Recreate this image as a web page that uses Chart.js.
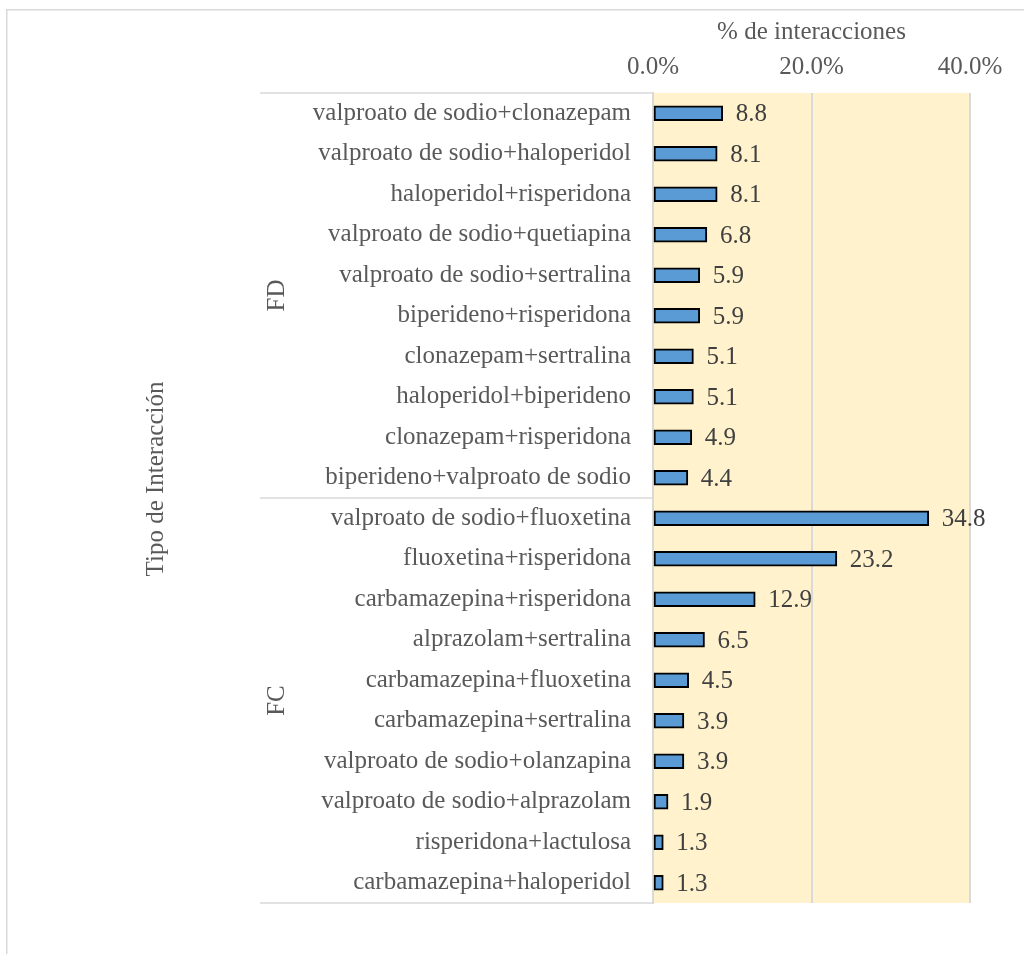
<!DOCTYPE html>
<html lang="es">
<head>
<meta charset="utf-8">
<title>Tipo de Interacción</title>
<script src="https://cdn.jsdelivr.net/npm/chart.js@4/dist/chart.umd.min.js"></script>
<style>
  html, body { margin: 0; padding: 0; background: #ffffff; }
  #wrap { width: 1024px; height: 954px; }
</style>
</head>
<body>
<div id="wrap"><canvas id="chart" width="1024" height="954"></canvas></div>
<script>
// Interacciones farmacodinámicas (FD) y farmacocinéticas (FC), % del total
const fdLabels = [
  'valproato de sodio+clonazepam',
  'valproato de sodio+haloperidol',
  'haloperidol+risperidona',
  'valproato de sodio+quetiapina',
  'valproato de sodio+sertralina',
  'biperideno+risperidona',
  'clonazepam+sertralina',
  'haloperidol+biperideno',
  'clonazepam+risperidona',
  'biperideno+valproato de sodio'
];
const fdValues = [8.8, 8.1, 8.1, 6.8, 5.9, 5.9, 5.1, 5.1, 4.9, 4.4];

const fcLabels = [
  'valproato de sodio+fluoxetina',
  'fluoxetina+risperidona',
  'carbamazepina+risperidona',
  'alprazolam+sertralina',
  'carbamazepina+fluoxetina',
  'carbamazepina+sertralina',
  'valproato de sodio+olanzapina',
  'valproato de sodio+alprazolam',
  'risperidona+lactulosa',
  'carbamazepina+haloperidol'
];
const fcValues = [34.8, 23.2, 12.9, 6.5, 4.5, 3.9, 3.9, 1.9, 1.3, 1.3];

const groupNames = ['FD', 'FC'];
const xTickValues = [0, 20, 40];
const xTitle = '% de interacciones';
const yTitle = 'Tipo de Interacción';

const categories = fdLabels.concat(fcLabels);
const values = fdValues.concat(fcValues);
const groupSizes = [fdLabels.length, fcLabels.length];

const FONT = '"Liberation Serif", "Times New Roman", serif';
const TEXT = '#595959';
const LINE = '#d9d9d9';

Chart.defaults.font.family = FONT;
Chart.defaults.font.size = 25;
Chart.defaults.color = TEXT;

// Outer frame, plot background, group dividers, group names and y title
const decorations = {
  id: 'decorations',
  beforeDraw(chart) {
    const { ctx, chartArea: a } = chart;
    ctx.save();
    ctx.fillStyle = '#ffffff';
    ctx.fillRect(0, 0, chart.width, chart.height);
    ctx.strokeStyle = LINE;
    ctx.lineWidth = 1.5;
    ctx.strokeRect(6.75, 9.75, chart.width + 20, chart.height + 20);
    ctx.fillStyle = '#FFF2CC';
    ctx.fillRect(a.left, a.top, a.right - a.left, a.bottom - a.top);
    ctx.restore();
  },
  afterDraw(chart) {
    const { ctx, chartArea: a } = chart;
    const step = (a.bottom - a.top) / categories.length;
    ctx.save();
    // dividers between groups in the label column
    ctx.strokeStyle = LINE;
    ctx.lineWidth = 1.5;
    let start = 0;
    const bounds = [a.top];
    groupSizes.forEach(n => { start += n; bounds.push(a.top + start * step); });
    bounds.forEach(y => {
      ctx.beginPath();
      ctx.moveTo(260, y);
      ctx.lineTo(a.left, y);
      ctx.stroke();
    });
    // group names
    ctx.fillStyle = TEXT;
    ctx.font = '25px ' + FONT;
    ctx.textAlign = 'center';
    ctx.textBaseline = 'middle';
    groupNames.forEach((g, i) => {
      const cy = (bounds[i] + bounds[i + 1]) / 2;
      ctx.save();
      ctx.translate(277, cy);
      ctx.rotate(-Math.PI / 2);
      ctx.fillText(g, 0, 0);
      ctx.restore();
    });
    // axis title
    ctx.save();
    ctx.translate(156, (a.top + a.bottom) / 2 - 19);
    ctx.rotate(-Math.PI / 2);
    ctx.fillText(yTitle, 0, 0);
    ctx.restore();
    // value labels
    const meta = chart.getDatasetMeta(0);
    ctx.fillStyle = '#404040';
    ctx.textAlign = 'left';
    meta.data.forEach((bar, i) => {
      ctx.fillText(values[i].toFixed(1), bar.x + 13, bar.y + 1.5);
    });
    ctx.restore();
  }
};

new Chart(document.getElementById('chart'), {
  type: 'bar',
  data: {
    labels: categories,
    datasets: [{
      data: values,
      backgroundColor: '#5B9BD5',
      borderColor: '#000000',
      borderWidth: 2,
      borderSkipped: false,
      barThickness: 15
    }]
  },
  options: {
    indexAxis: 'y',
    responsive: false,
    animation: false,
    devicePixelRatio: 1,
    layout: { padding: { left: 0, top: 0, right: 54, bottom: 51 } },
    plugins: {
      legend: { display: false },
      tooltip: { enabled: false }
    },
    scales: {
      x: {
        position: 'top',
        min: 0,
        max: 40,
        afterBuildTicks(scale) {
          scale.ticks = xTickValues.map(v => ({ value: v }));
        },
        afterFit(scale) { scale.height = 93; },
        ticks: {
          padding: 11,
          color: TEXT,
          font: { size: 25 },
          callback: v => v.toFixed(1) + '%'
        },
        grid: { color: LINE, lineWidth: 2, drawTicks: false },
        border: { display: false },
        title: {
          display: true,
          text: xTitle,
          color: TEXT,
          font: { size: 25 },
          padding: { top: 17, bottom: 0 }
        }
      },
      y: {
        afterFit(scale) { scale.width = 653; },
        ticks: { padding: 22, color: TEXT, font: { size: 25 } },
        grid: { display: false, drawTicks: false },
        border: { display: true, color: LINE, width: 2 }
      }
    }
  },
  plugins: [decorations]
});
</script>
</body>
</html>
